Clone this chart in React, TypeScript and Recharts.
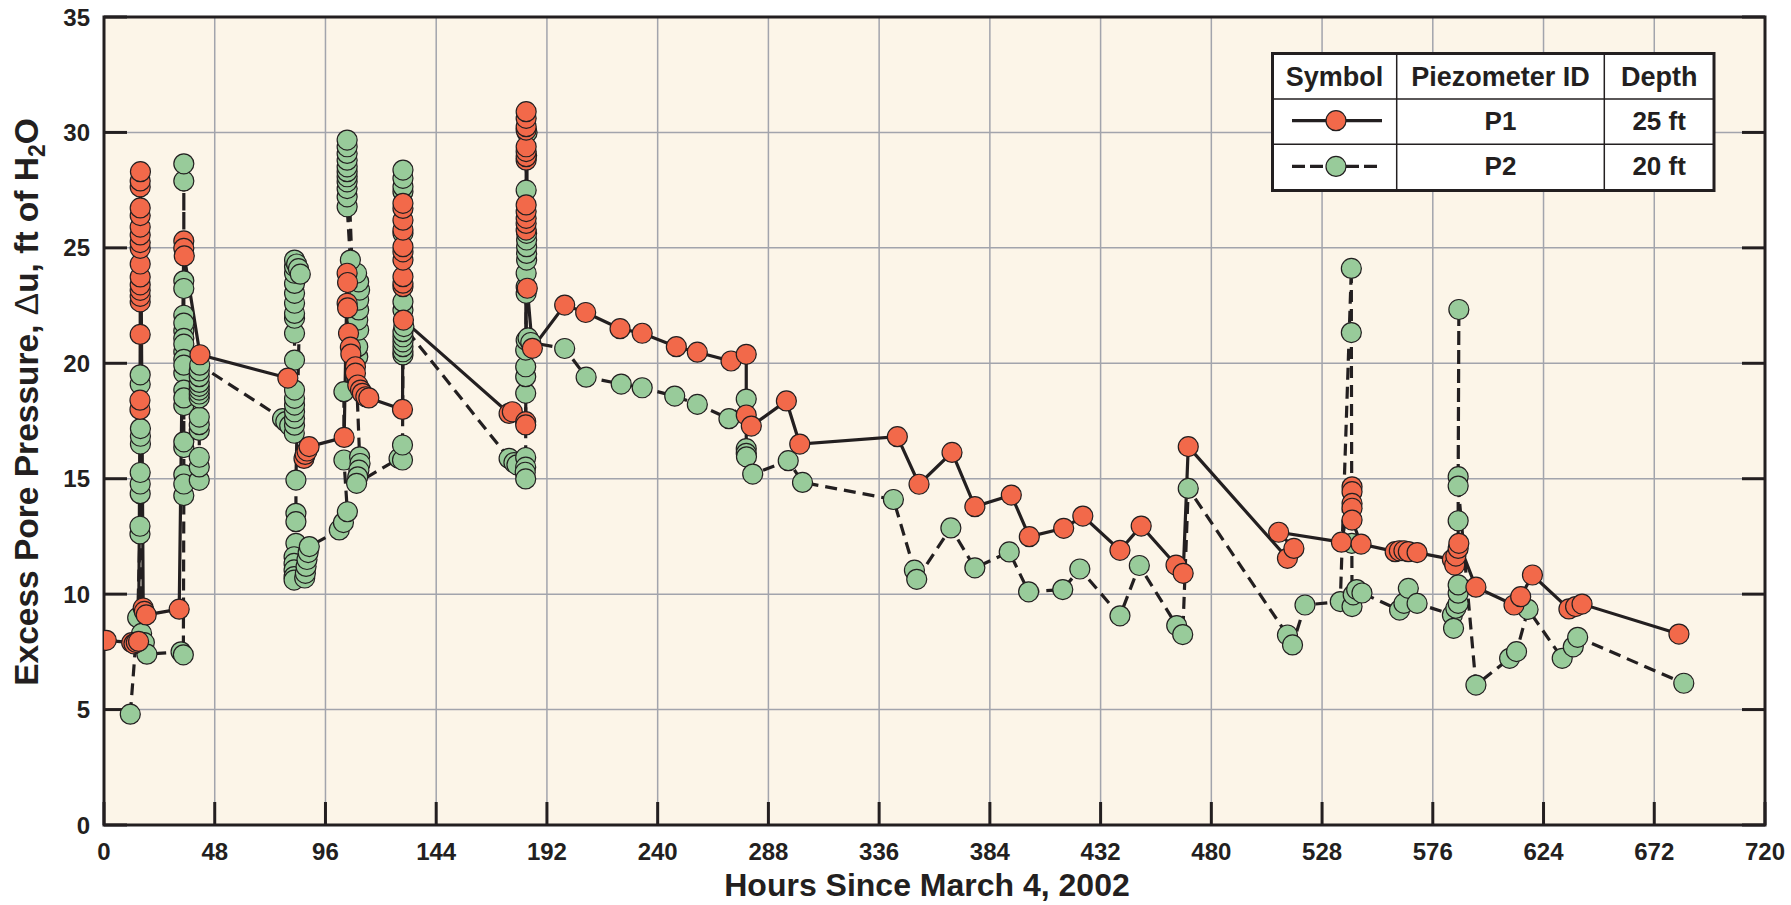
import React from 'react';
import { ComposedChart, Line, XAxis, YAxis, CartesianGrid, ReferenceArea } from 'recharts';

// ---- Data (hours since March 4, 2002 ; excess pore pressure, ft of H2O) ----
const p1Hours = [
  1, 12, 13, 14, 15, 15.6, 15.6, 15.7, 15.7, 15.7, 15.7, 15.7, 15.7, 15.7, 15.7, 15.7, 15.7, 15.7, 15.7, 15.7, 15.7, 15.7, 15.8,
  17, 17.5, 18.3, 32.6, 34.6, 34.6, 34.8, 41.6, 79.7, 86.7, 87.2, 88, 88.9, 104.1,
  105.4, 105.6, 105.4, 105.6, 106, 106.8, 107, 109, 109, 110, 111.2, 112, 113.5, 114.8,
  129.4, 129.6, 129.6, 129.6, 129.6, 129.6, 129.6, 129.6, 129.6, 129.6, 129.6, 129.8,
  175.6, 177, 182.8, 182.8, 183, 183, 183, 183, 183, 183, 183, 183, 183, 183, 183, 183, 183, 183.5, 185.7,
  199.7, 208.8, 223.7, 233.3, 248.1, 257.2, 271.8, 278.4, 278.4, 280.6, 295.8, 301.6, 343.9, 353.3, 367.6,
  377.5, 393.3, 401.1, 416, 424.3, 440.4, 449.6, 464.7, 467.8, 470, 513, 515.8, 509.2, 536.4,
  541, 541, 541, 541, 541, 544.9, 559.7, 561.5, 563.5, 565.4, 569.2, 584.5, 585.5, 586, 587, 587.3,
  594.7, 611.2, 614.1, 619.2, 635, 637.9, 640.7, 682.7,
];
const p1Pressure = [
  8.0, 7.9, 7.85, 7.9, 7.95, 18.0, 18.4, 21.25, 22.66, 22.9, 23.16, 23.4, 23.74, 24.3, 24.98, 25.23, 25.56, 25.9, 26.4, 26.73, 27.64, 27.9, 28.3,
  9.4, 9.25, 9.1, 9.35, 25.3, 24.98, 24.65, 20.37, 19.36, 15.88, 16.05, 16.2, 16.39, 16.79,
  23.9, 23.5, 22.6, 22.4, 21.3, 20.7, 20.4, 19.85, 19.57, 19.06, 18.84, 18.7, 18.55, 18.5,
  18.0, 23.32, 23.47, 23.75, 24.47, 24.83, 25.05, 25.77, 26.2, 26.71, 26.93, 21.87,
  17.83, 17.9, 17.47, 17.33, 25.77, 26.06, 26.28, 26.57, 26.86, 28.8, 28.95, 29.17, 29.38, 30.1, 30.25, 30.61, 30.9, 23.25, 20.65,
  22.52, 22.2, 21.5, 21.3, 20.72, 20.48, 20.1, 20.39, 17.76, 17.28, 18.37, 16.5, 16.82, 14.76, 16.14,
  13.79, 14.29, 12.49, 12.85, 13.38, 11.9, 12.95, 11.26, 10.9, 16.39, 11.55, 11.98, 12.68, 12.25,
  14.65, 14.44, 13.93, 13.72, 13.21, 12.17, 11.84, 11.88, 11.88, 11.84, 11.8, 11.5, 11.26, 11.65, 11.98, 12.2,
  10.3, 9.53, 9.89, 10.83, 9.36, 9.46, 9.57, 8.27,
];
const p2Hours = [
  11.4, 14.6, 15.6, 15.6, 15.7, 15.7, 15.7, 15.8, 15.8, 15.8, 15.7, 15.7, 16.3, 17.5, 18.6, 33.4, 34.4,
  34.6, 34.6, 34.6, 34.6, 34.6, 34.6, 34.6, 34.6, 34.6, 34.6, 34.6, 34.6, 34.6, 34.6, 34.6, 34.6, 34.6, 34.6, 34.6, 34.6, 34.6,
  41.3, 41.3, 41.3, 41.3, 41.3, 41.3, 41.3, 41.3, 41.3, 41.3, 41.3, 41.3, 41.3, 41.5,
  77.4, 78.8, 80.5, 82.5, 82.6, 82.6, 82.6, 82.6, 82.6, 82.6, 82.6, 82.6, 82.6, 82.6, 82.6, 82.6, 82.6, 82.6, 82.6, 82.6,
  83.5, 84.3, 85.1, 83.2, 83.2, 83.2, 83.2, 82.4, 82.4, 82.4, 82.4, 82.4, 87, 87.3, 87.6, 88, 88.5, 89,
  102, 103.8, 105.5, 104, 104, 110, 110, 110.4, 110, 110.4, 110.4, 110.8, 110.4, 109.5, 106.8,
  105.4, 105.4, 105.4, 105.4, 105.4, 105.4, 105.4, 105.4, 105.4, 105.4, 105.4, 110.8, 111, 110.5, 110, 109.5,
  127.9, 129.4, 129.4, 129.6, 129.6, 129.6, 129.6, 129.6, 129.6, 129.6, 129.6, 129.6, 129.6, 129.6, 129.6, 129.6, 130,
  175.6, 177.7, 179, 182.8, 182.8, 182.6, 182.8, 182.8, 182.8, 182.8, 182.8, 183, 183, 183, 183.2, 183.2, 183.2, 183.2, 183.2,
  183, 183.2, 183.4, 183, 183.8, 185,
  199.7, 209, 224.2, 233.3, 247.4, 257.2, 270.9, 278.4, 278.4, 278.4, 278.5, 281.2, 296.6, 302.8, 342.2, 351.3, 352.3,
  367.1, 377.5, 392.4, 400.8, 415.6, 423, 440.4, 448.8, 465, 467.6, 470, 513, 515.2, 520.6, 535.9,
  540.7, 540.7, 540.9, 541, 541.5, 543, 545.3, 561.6, 563.5, 565.4, 569.2, 584.5, 585, 586, 587, 587, 587, 587, 587, 587.3, 587,
  594.7, 609.3, 612.3, 617.3, 632.1, 636.9, 638.8, 684.8,
];
const p2Pressure = [
  4.8, 8.98, 12.61, 12.94, 14.35, 14.77, 15.27, 16.5, 16.84, 17.17, 19.09, 19.5, 8.3, 7.9, 7.4, 7.5, 7.37,
  14.27, 15.18, 16.35, 18.17, 19.58, 20.5, 21.41, 22.08, 23.57, 27.9, 28.64, 23.24, 21.74, 21.08, 20.83, 20.17, 19.92, 18.84, 18.5, 16.6, 14.77,
  14.93, 15.51, 15.93, 17.09, 17.34, 17.67, 18.5, 18.67, 18.84, 19.0, 19.17, 19.42, 19.67, 19.92,
  17.6, 17.47, 17.3, 16.97, 17.32, 17.61, 17.9, 18.19, 18.48, 18.84, 20.14, 21.3, 21.95, 22.16, 22.6, 23.03, 23.46, 23.9, 24.19, 24.47,
  24.3, 24.1, 23.86, 14.94, 13.5, 13.14, 12.2, 11.62, 11.33, 11.05, 10.76, 10.61, 10.7, 10.9, 11.2, 11.5, 11.8, 12.06,
  12.78, 13.1, 13.57, 15.81, 18.77, 20.28, 20.72, 21.44, 21.87, 22.31, 22.74, 23.17, 23.53, 23.9, 24.47,
  26.78, 27.21, 27.57, 27.86, 28.08, 28.3, 28.51, 28.8, 29.09, 29.38, 29.67, 15.95, 15.66, 15.37, 15.08, 14.8,
  15.88, 15.81, 16.46, 20.36, 20.5, 20.72, 20.93, 21.15, 21.37, 22.31, 22.67, 25.63, 27.43, 27.65, 28.01, 28.37, 21.59,
  15.88, 15.7, 15.6, 15.92, 15.5, 15.28, 14.99, 18.7, 19.42, 19.85, 20.57, 23.03, 23.32, 23.9, 24.47, 24.76, 25.05, 25.34, 25.63,
  27.5, 29.0, 30.0, 21.0, 21.1, 20.9,
  20.64, 19.4, 19.1, 18.94, 18.58, 18.22, 17.6, 18.45, 16.3, 16.1, 15.95, 15.2, 15.78, 14.84, 14.1, 11.04, 10.64,
  12.87, 11.14, 11.83, 10.1, 10.2, 11.09, 9.06, 11.24, 8.64, 8.25, 14.58, 8.23, 7.8, 9.53, 9.68,
  24.11, 21.33, 12.2, 9.46, 9.97, 10.2, 10.05, 9.31, 9.6, 10.25, 9.6, 9.1, 8.52, 9.39, 9.6, 10.04, 10.4, 13.18, 15.09, 22.33, 14.68,
  6.06, 7.22, 7.51, 9.34, 7.22, 7.72, 8.13, 6.14,
];

const xTicks = [0, 48, 96, 144, 192, 240, 288, 336, 384, 432, 480, 528, 576, 624, 672, 720];
const yTicks = [0, 5, 10, 15, 20, 25, 30, 35];
const legendHeaders = ['Symbol', 'Piezometer ID', 'Depth'];
const legendRows = [
  { id: 'P1', depth: '25 ft', dashed: false },
  { id: 'P2', depth: '20 ft', dashed: true },
];

const p1Data = p1Hours.map((h, i) => ({ h, v: p1Pressure[i] }));
const p2Data = p2Hours.map((h, i) => ({ h, v: p2Pressure[i] }));

const ORANGE = '#F2694A';
const GREEN = '#98CB9A';
const INK = '#231F20';
const BG = '#FCF5E8';
const GRID = '#A2A4AC';
const FONT = "'Liberation Sans', Arial, Helvetica, sans-serif";
const DASH = '12 7';

const W = 1791;
const H = 905;
const TICK_IN = 23;

const xMin = 0, xMax = 720, yMin = 0, yMax = 35;

const tickFont = { fontSize: 24, fontWeight: 'bold', fill: INK, fontFamily: FONT };
const tickLineStyle = { stroke: INK, strokeWidth: 3 };

function Legend() {
  const cx = [1272.5, 1396.7, 1604.3, 1714];
  const ry = [53.5, 99, 144.3, 190.5];
  const colMid = [(cx[0] + cx[1]) / 2, (cx[1] + cx[2]) / 2, (cx[2] + cx[3]) / 2];
  return (
    <g fontFamily={FONT} fontWeight="bold" fill={INK}>
      <rect x={cx[0]} y={ry[0]} width={cx[3] - cx[0]} height={ry[3] - ry[0]} fill="#FFFFFF" stroke={INK} strokeWidth={3} />
      <line x1={cx[1]} x2={cx[1]} y1={ry[0]} y2={ry[3]} stroke={INK} strokeWidth={1.5} />
      <line x1={cx[2]} x2={cx[2]} y1={ry[0]} y2={ry[3]} stroke={INK} strokeWidth={1.5} />
      <line x1={cx[0]} x2={cx[3]} y1={ry[1]} y2={ry[1]} stroke={INK} strokeWidth={1.5} />
      <line x1={cx[0]} x2={cx[3]} y1={ry[2]} y2={ry[2]} stroke={INK} strokeWidth={1.5} />
      {legendHeaders.map((t, i) => (
        <text key={t} x={colMid[i]} y={86} textAnchor="middle" fontSize={27}>{t}</text>
      ))}
      {legendRows.map((r, i) => {
        const yc = (ry[i + 1] + ry[i + 2]) / 2 - 1;
        return (
          <g key={r.id}>
            <line x1={1292} x2={1382} y1={yc} y2={yc} stroke={INK} strokeWidth={3.2} strokeDasharray={r.dashed ? '13 5' : undefined} />
            <circle cx={1336} cy={yc} r={10} fill={r.dashed ? GREEN : ORANGE} stroke={INK} strokeWidth={1.2} />
            <text x={colMid[1]} y={yc + 9} textAnchor="middle" fontSize={26}>{r.id}</text>
            <text x={colMid[2]} y={yc + 9} textAnchor="middle" fontSize={26}>{r.depth}</text>
          </g>
        );
      })}
    </g>
  );
}

const NoLabel = () => <g />;

export default function App() {
  const dotStyle = (fill: string) => ({ r: 10, fill, stroke: INK, strokeWidth: 1.2 });
  return (
    <div style={{ position: 'absolute', left: 0, top: 0, width: W, height: H, background: '#FFFFFF' }}>
      <ComposedChart width={W} height={H} margin={{ top: 16, right: 25, bottom: 0, left: 0 }}>
        <CartesianGrid stroke={GRID} strokeWidth={1.5} fill={BG} fillOpacity={1} />
        <XAxis
          dataKey="h"
          type="number"
          domain={[xMin, xMax]}
          ticks={xTicks}
          allowDataOverflow
          height={80}
          axisLine={false}
          tickLine={tickLineStyle}
          tickSize={-TICK_IN}
          tickMargin={TICK_IN + 18}
          tick={tickFont}
        />
        <XAxis
          xAxisId="top"
          orientation="top"
          type="number"
          domain={[xMin, xMax]}
          ticks={xTicks}
          allowDataOverflow
          height={1}
          axisLine={false}
          tickLine={tickLineStyle}
          tickSize={-TICK_IN}
          tick={<NoLabel />}
        />
        <YAxis
          dataKey="v"
          type="number"
          domain={[yMin, yMax]}
          ticks={yTicks}
          allowDataOverflow
          width={104}
          axisLine={false}
          tickLine={tickLineStyle}
          tickSize={-TICK_IN}
          tickMargin={TICK_IN + 14}
          tick={tickFont}
        />
        <YAxis
          yAxisId="right"
          orientation="right"
          type="number"
          domain={[yMin, yMax]}
          ticks={yTicks}
          allowDataOverflow
          width={1}
          axisLine={false}
          tickLine={tickLineStyle}
          tickSize={-TICK_IN}
          tick={<NoLabel />}
        />
        <ReferenceArea x1={xMin} x2={xMax} y1={yMin} y2={yMax} fill="none" fillOpacity={0} stroke={INK} strokeWidth={3} />
        <Line data={p1Data} dataKey="v" type="linear" stroke={INK} strokeWidth={3.2} dot={false} activeDot={false} isAnimationActive={false} />
        <Line data={p2Data} dataKey="v" type="linear" stroke={INK} strokeWidth={3.2} strokeDasharray={DASH} dot={false} activeDot={false} isAnimationActive={false} />
        <Line data={p2Data} dataKey="v" type="linear" stroke="none" dot={dotStyle(GREEN)} activeDot={false} isAnimationActive={false} />
        <Line data={p1Data} dataKey="v" type="linear" stroke="none" dot={dotStyle(ORANGE)} activeDot={false} isAnimationActive={false} />
      </ComposedChart>
      <svg width={W} height={H} style={{ position: 'absolute', left: 0, top: 0, pointerEvents: 'none' }}>
        <Legend />
        <text x={927} y={896} textAnchor="middle" fontFamily={FONT} fontWeight="bold" fontSize={32} fill={INK}>
          Hours Since March 4, 2002
        </text>
        <text transform="translate(38,402) rotate(-90)" textAnchor="middle" fontFamily={FONT} fontWeight="bold" fontSize={33.5} fill={INK}>
          Excess Pore Pressure, <tspan fontWeight="normal">Δ</tspan>u, ft of H<tspan fontSize={23} dy={7}>2</tspan><tspan dy={-7}>O</tspan>
        </text>
      </svg>
    </div>
  );
}
